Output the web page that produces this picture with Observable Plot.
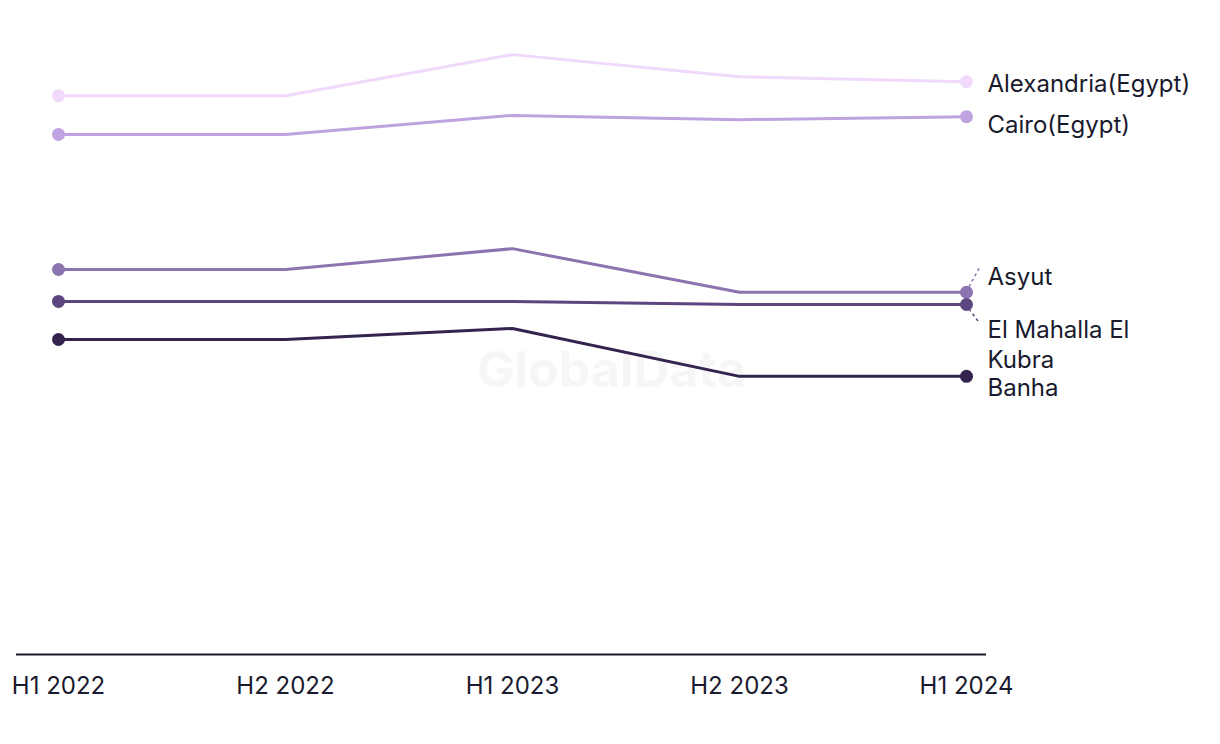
<!DOCTYPE html>
<html>
<head>
<meta charset="utf-8">
<script src="https://cdn.jsdelivr.net/npm/d3@7"></script>
<script src="https://cdn.jsdelivr.net/npm/@observablehq/plot@0.6"></script>
<style>
  html, body { margin: 0; padding: 0; background: #fff; }
  #chart { width: 1220px; height: 744px; }
</style>
</head>
<body>
<div id="chart"></div>
<script>
const periods = ["H1 2022", "H2 2022", "H1 2023", "H2 2023", "H1 2024"];
const cities = ["Alexandria(Egypt)", "Cairo(Egypt)", "Asyut", "El Mahalla El Kubra", "Banha"];
const alexandria = [91.0, 91.0, 97.7, 94.1, 93.3];
const cairo = [84.7, 84.7, 87.8, 87.1, 87.6];
const asyut = [62.7, 62.7, 66.1, 59.0, 59.0];
const elMahalla = [57.5, 57.5, 57.5, 57.0, 57.0];
const banha = [51.3, 51.3, 53.1, 45.3, 45.3];
const colors = ["#f0d9fb", "#bea3e0", "#8d73b0", "#5d4680", "#33234f"];

const seriesValues = [alexandria, cairo, asyut, elMahalla, banha];
const data = [];
cities.forEach((c, i) => periods.forEach((p, j) => data.push({city: c, period: p, value: seriesValues[i][j]})));
const last = cities.map((c, i) => ({city: c, period: periods[periods.length - 1], value: seriesValues[i][periods.length - 1]}));

const labelText = {
  "Alexandria(Egypt)": "Alexandria(Egypt)",
  "Cairo(Egypt)": "Cairo(Egypt)",
  "Asyut": "Asyut",
  "El Mahalla El Kubra": "El Mahalla El\nKubra",
  "Banha": "Banha"
};
const labelDy = {"Alexandria(Egypt)": 1, "Cairo(Egypt)": 7, "Asyut": -17, "El Mahalla El Kubra": 39, "Banha": 10};
const leaderOffsets = {"Asyut": [[3, -5], [14, -25]], "El Mahalla El Kubra": [[3, 5], [12, 17]]};
const leaderData = last.filter(d => leaderOffsets[d.city]);

const font = "Inter, 'Noto Sans', sans-serif";

const chart = Plot.plot({
  width: 1220,
  height: 744,
  marginLeft: 16,
  marginRight: 234,
  marginTop: 40,
  marginBottom: 90,
  style: {fontFamily: font, fontSize: "24px", color: "#1a1a2e", background: "#fff"},
  x: {type: "point", domain: periods, range: [57, 966], padding: 0, label: null},
  y: {domain: [0, 100], axis: null},
  color: {domain: cities, range: colors},
  marks: [
    Plot.text(["GlobalData"], {frameAnchor: "middle", dx: 110, dy: 23, fontSize: 50, fontWeight: "bold", fill: "#f6f6f6"}),
    Plot.ruleY([0], {stroke: "#1a1a2e", strokeWidth: 2}),
    Plot.axisX({tickSize: 0, tickPadding: 22, fontSize: 24, fill: "#1a1a2e", label: null}),
    Plot.line(data, {x: "period", y: "value", z: "city", stroke: "city", strokeWidth: 3}),
    Plot.dot(data.filter(d => d.period === periods[0] || d.period === periods[periods.length - 1]), {x: "period", y: "value", fill: "city", r: 6.5}),
    Plot.dot(leaderData, {x: "period", y: "value", fill: "city",
      render(index, scales, values, dims, ctx) {
        const g = d3.create("svg:g");
        for (const i of index) {
          const d = leaderData[i];
          const [[a, b], [c, e]] = leaderOffsets[d.city];
          const px = values.x[i], py = values.y[i];
          g.append("line")
            .attr("x1", px + a).attr("y1", py + b)
            .attr("x2", px + c).attr("y2", py + e)
            .attr("stroke", values.fill[i])
            .attr("stroke-width", 1.5)
            .attr("stroke-dasharray", "3,3");
        }
        return g.node();
      }
    }),
    Plot.text(last, {x: "period", y: "value", text: d => labelText[d.city], dx: 21, textAnchor: "start", fill: "#1a1a2e", fontSize: 24, lineHeight: 1.25,
      render(index, scales, values, dims, ctx, next) {
        const g = next(index, scales, values, dims, ctx);
        d3.select(g).selectAll("text").each(function(_, k) {
          const i = index[k];
          const el = d3.select(this);
          const t = el.attr("transform") || "";
          el.attr("transform", t + ` translate(0,${labelDy[last[i].city]})`);
        });
        return g;
      }
    })
  ]
});
document.getElementById("chart").appendChild(chart);
</script>
</body>
</html>
